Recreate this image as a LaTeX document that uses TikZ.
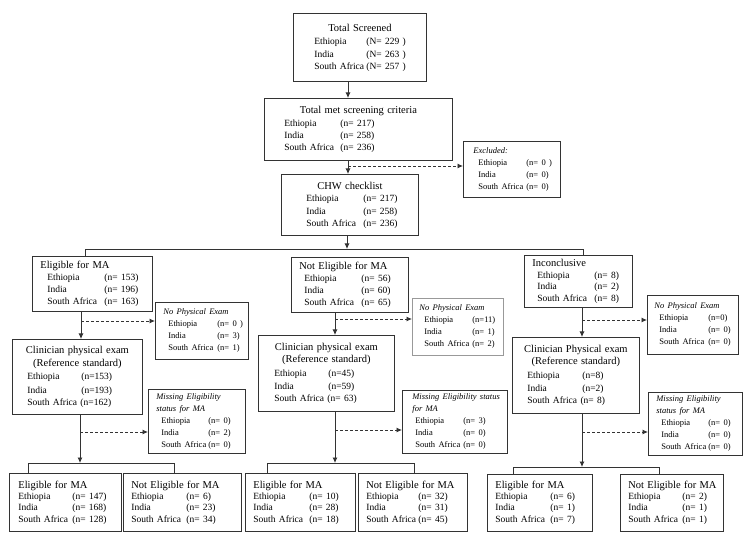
\documentclass[tikz,border=0pt]{standalone}
\usepackage{fontspec}
\setmainfont{Liberation Serif}
\usetikzlibrary{arrows.meta}
\newcommand\lab[2]{\makebox[#1pt][l]{#2}}
\newcommand\rw[4][0]{\mbox{\hspace*{#1pt}\lab{#2}{#3}#4}}
\newcommand\fT{\fontsize{10.5}{12.5}\selectfont}
\newcommand\fR[1]{\fontsize{9.5}{#1}\selectfont}
\newcommand\fS{\fontsize{8.5}{12}\selectfont}
\newcommand\ctr[1]{\makebox[\linewidth]{#1}}
\hbadness=10000 \hfuzz=80pt
\begin{document}
\begin{tikzpicture}[x=1pt,y=-1pt,
 box/.style={draw=black!80, line width=0.8pt, anchor=north west, align=left, inner ysep=0pt},
 bx/.style n args={4}{box, minimum width=#1pt, minimum height=#2pt, inner xsep=#3pt, text width=#4pt},
 conn/.style={draw=black!80, line width=0.8pt},
 arr/.style={conn, -{Latex[length=5.5pt,width=5pt]}},
 dsh/.style={arr, dash pattern=on 3pt off 2pt}]
\useasboundingbox[fill=white] (0,0) rectangle (750,537);

% ---- top chain
\node[bx={133}{68}{21}{91}] (ts) at (293,13) {\fT\ctr{Total Screened}\\[1pt]\fR{12.5}\rw{52}{Ethiopia}{(N= 229 )}\\\rw{52}{India}{(N= 263 )}\\\rw{52}{South Africa}{(N= 257 )}};
\node[bx={188}{62}{20}{148}] (tm) at (264,98) {\fT\ctr{Total met screening criteria}\\\fR{12.2}\rw{56}{Ethiopia}{(n= 217)}\\\rw{56}{India}{(n= 258)}\\\rw{56}{South Africa}{(n= 236)}};
\node[bx={97}{56}{15}{67}] (exc) at (463,141) {\fS\mbox{\hspace*{-5pt}\textit{Excluded:}}\\\rw{48}{Ethiopia}{(n= 0 )}\\\rw{48}{India}{(n= 0)}\\\rw{48}{South Africa}{(n= 0)}};
\node[bx={137}{61}{25}{87}] (chw) at (281,174) {\fT\ctr{CHW checklist}\\\fR{12.5}\rw{57}{Ethiopia}{(n= 217)}\\\rw{57}{India}{(n= 258)}\\\rw{57}{South Africa}{(n= 236)}};

% ---- left column
\node[bx={120}{55}{8}{104}] (el1) at (32,256) {\fT\mbox{Eligible for MA}\\\fR{11.7}\rw[7]{57}{Ethiopia}{(n= 153)}\\\rw[7]{57}{India}{(n= 196)}\\\rw[7]{57}{South Africa}{(n= 163)}};
\node[bx={93}{57}{8}{77}] (np1) at (155,302) {\fS\mbox{\textit{No Physical Exam}}\\\rw[5]{49}{Ethiopia}{(n= 0 )}\\\rw[5]{49}{India}{(n= 3)}\\\rw[5]{49}{South Africa}{(n= 1)}};
\node[bx={130}{75}{15}{100}] (cl1) at (12,339) {\fT\ctr{Clinician physical exam}\\\ctr{(Reference standard)}\\\fR{13.5}\rw{54}{Ethiopia}{(n=153)}\\\rw{54}{India}{(n=193)}\\\mbox{South Africa (n=162)}};
\node[bx={97}{64}{8}{81}] (ms1) at (148,389) {\fS\itshape\mbox{Missing Eligibility}\\\mbox{status for MA}\\\upshape\rw[5]{47}{Ethiopia}{(n= 0)}\\\rw[5]{47}{India}{(n= 2)}\\\rw[5]{47}{South Africa}{(n= 0)}};
\node[bx={112}{58}{9}{94}] (b1) at (9,473) {\fT\mbox{Eligible for MA}\\\fR{11}\rw{54}{Ethiopia}{(n= 147)}\\\rw{54}{India}{(n= 168)}\\\rw{54}{South Africa}{(n= 128)}};
\node[bx={118}{58}{8}{102}] (b2) at (123,473) {\fT\mbox{Not Eligible for MA}\\\fR{11}\rw{55}{Ethiopia}{(n= 6)}\\\rw{55}{India}{(n= 23)}\\\rw{55}{South Africa}{(n= 34)}};

% ---- middle column
\node[bx={117}{55}{8}{101}] (el2) at (291,257) {\fT\mbox{Not Eligible for MA}\\\fR{11.7}\rw[5]{57}{Ethiopia}{(n= 56)}\\\rw[5]{57}{India}{(n= 60)}\\\rw[5]{57}{South Africa}{(n= 65)}};
\node[bx={91}{57}{7}{77}, draw=black!40] (np2) at (412,298) {\fS\mbox{\textit{No Physical Exam}}\\\rw[5]{48}{Ethiopia}{(n=11)}\\\rw[5]{48}{India}{(n= 1)}\\\rw[5]{48}{South Africa}{(n= 2)}};
\node[bx={136}{76}{16}{104}] (cl2) at (258,335) {\fT\ctr{Clinician physical exam}\\\ctr{(Reference standard)}\\\fR{13.5}\rw{54}{Ethiopia}{(n=45)}\\\rw{54}{India}{(n=59)}\\\mbox{South Africa (n= 63)}};
\node[bx={105}{63}{10}{85}] (ms2) at (402,390) {\fS\itshape\mbox{Missing Eligibility status}\\\mbox{for MA}\\\upshape\rw[3]{48}{Ethiopia}{(n= 3)}\\\rw[3]{48}{India}{(n= 0)}\\\rw[3]{48}{South Africa}{(n= 0)}};
\node[bx={110}{58}{8}{94}] (b3) at (245,473) {\fT\mbox{Eligible for MA}\\\fR{11}\rw{56}{Ethiopia}{(n= 10)}\\\rw{56}{India}{(n= 28)}\\\rw{56}{South Africa}{(n= 18)}};
\node[bx={109}{58}{8}{93}] (b4) at (358,473) {\fT\mbox{Not Eligible for MA}\\\fR{11}\rw{52}{Ethiopia}{(n= 32)}\\\rw{52}{India}{(n= 31)}\\\rw{52}{South Africa}{(n= 45)}};

% ---- right column
\node[bx={108}{52}{8}{92}] (el3) at (524,255) {\fT\mbox{Inconclusive}\\\fR{11.7}\rw[5]{57}{Ethiopia}{(n= 8)}\\\rw[5]{57}{India}{(n= 2)}\\\rw[5]{57}{South Africa}{(n= 8)}};
\node[bx={91}{59}{7}{77}] (np3) at (647,295) {\fS\mbox{\textit{No Physical Exam}}\\\rw[5]{49}{Ethiopia}{(n=0)}\\\rw[5]{49}{India}{(n= 0)}\\\rw[5]{49}{South Africa}{(n= 0)}};
\node[bx={127}{76}{15}{97}] (cl3) at (512,337) {\fT\ctr{Clinician Physical exam}\\\ctr{(Reference standard)}\\\fR{13.5}\rw{55}{Ethiopia}{(n=8)}\\\rw{55}{India}{(n=2)}\\\mbox{South Africa (n= 8)}};
\node[bx={94}{63}{8}{78}] (ms3) at (648,392) {\fS\itshape\mbox{Missing Eligibility}\\\mbox{status for MA}\\\upshape\rw[5]{47}{Ethiopia}{(n= 0)}\\\rw[5]{47}{India}{(n= 0)}\\\rw[5]{47}{South Africa}{(n= 0)}};
\node[bx={105}{57}{8}{89}] (b5) at (487,474) {\fT\mbox{Eligible for MA}\\\fR{11}\rw{55}{Ethiopia}{(n= 6)}\\\rw{55}{India}{(n= 1)}\\\rw{55}{South Africa}{(n= 7)}};
\node[bx={103}{57}{8}{87}] (b6) at (620,474) {\fT\mbox{Not Eligible for MA}\\\fR{11}\rw{54}{Ethiopia}{(n= 2)}\\\rw{54}{India}{(n= 1)}\\\rw{54}{South Africa}{(n= 1)}};

% ---- connectors: top
\coordinate (c1) at (348,0);
\draw[arr] (ts.south -| c1) -- (tm.north -| c1);
\draw[arr] (tm.south -| c1) -- (chw.north -| c1);
\coordinate (d1) at (348,166);
\draw[dsh] (d1) -- (d1 -| exc.west);
\coordinate (j0) at (347,249);
\draw[arr] (chw.south -| j0) -- (j0);
\coordinate (jl) at (85,249);
\coordinate (jr) at (583,249);
\draw[conn] (el1.north -| jl) -- (jl) -- (jr) -- (el3.north -| jr);

% ---- left
\coordinate (c2) at (81,0);
\draw[arr] (el1.south -| c2) -- (cl1.north -| c2);
\coordinate (d2) at (81,321);
\draw[dsh] (d2) -- (d2 -| np1.west);
\coordinate (k1) at (80,463);
\draw[arr] (cl1.south -| k1) -- (k1);
\coordinate (d3) at (80,432);
\draw[dsh] (d3) -- (d3 -| ms1.west);
\coordinate (k1l) at (28,463);
\coordinate (k1r) at (174,463);
\draw[conn] (b1.north -| k1l) -- (k1l) -- (k1r) -- (b2.north -| k1r);

% ---- middle
\coordinate (c3) at (335,0);
\draw[arr] (el2.south -| c3) -- (cl2.north -| c3);
\coordinate (d4) at (335,319);
\draw[dsh] (d4) -- (d4 -| np2.west);
\coordinate (k2) at (335,463);
\draw[arr] (cl2.south -| k2) -- (k2);
\coordinate (d5) at (335,430);
\draw[dsh] (d5) -- (d5 -| ms2.west);
\coordinate (k2l) at (267,463);
\coordinate (k2r) at (414,463);
\draw[conn] (b3.north -| k2l) -- (k2l) -- (k2r) -- (b4.north -| k2r);

% ---- right
\coordinate (c4) at (582,0);
\draw[arr] (el3.south -| c4) -- (cl3.north -| c4);
\coordinate (d6) at (582,320);
\draw[dsh] (d6) -- (d6 -| np3.west);
\coordinate (k3) at (582,467);
\draw[arr] (cl3.south -| k3) -- (k3);
\coordinate (d7) at (582,432);
\draw[dsh] (d7) -- (d7 -| ms3.west);
\coordinate (k3l) at (513,467);
\coordinate (k3r) at (659,467);
\draw[conn] (b5.north -| k3l) -- (k3l) -- (k3r) -- (b6.north -| k3r);
\end{tikzpicture}
\end{document}
